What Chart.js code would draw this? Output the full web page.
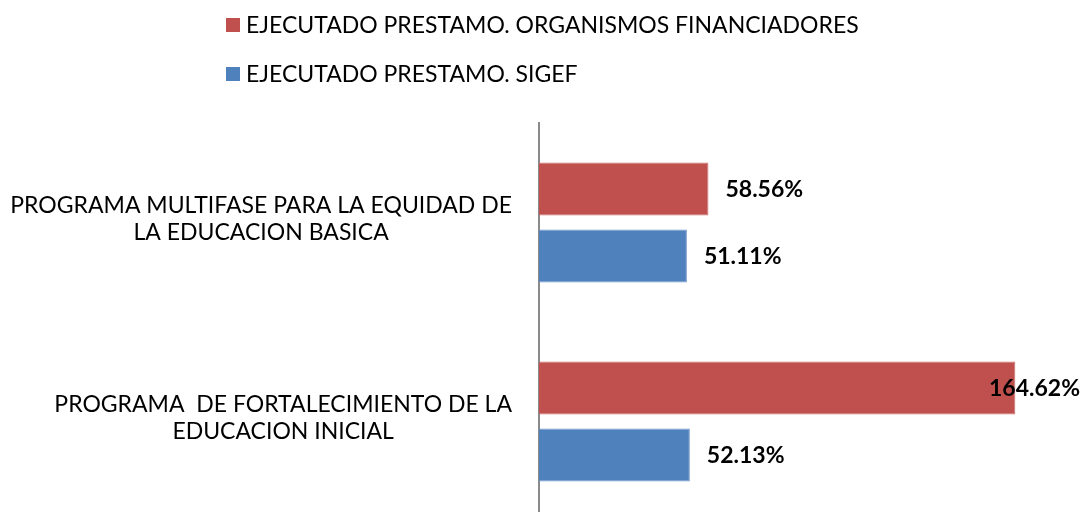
<!DOCTYPE html>
<html>
<head>
<meta charset="utf-8">
<script src="https://cdn.jsdelivr.net/npm/chart.js@4.4.1/dist/chart.umd.min.js"></script>
<style>
  html, body { margin: 0; padding: 0; background: #fff; overflow: hidden; }
  #wrap { width: 1083px; height: 522px; position: relative; }
</style>
</head>
<body>
<div id="wrap"><canvas id="chart"></canvas></div>
<script>
// categories (multi-line labels as shown on the left)
const categories = [
  ['PROGRAMA MULTIFASE PARA LA EQUIDAD DE', 'LA EDUCACION BASICA'],
  ['PROGRAMA  DE FORTALECIMIENTO DE LA', 'EDUCACION INICIAL']
];
const seriesNames = [
  'EJECUTADO PRESTAMO. ORGANISMOS FINANCIADORES',
  'EJECUTADO PRESTAMO. SIGEF'
];
const organismosValues = [58.56, 164.62];
const sigefValues = [51.11, 52.13];

const RED = '#C0504D';
const BLUE = '#4F81BD';
const FONT = 'Lato, "Liberation Sans", sans-serif';

// legend drawn as two left-aligned rows
const legendPlugin = {
  id: 'rowsLegend',
  afterDraw(chart) {
    const ctx = chart.ctx;
    ctx.save();
    ctx.font = '23px ' + FONT;
    ctx.textBaseline = 'middle';
    ctx.textAlign = 'left';
    const rows = [25, 74];
    chart.data.datasets.forEach((ds, i) => {
      ctx.fillStyle = ds.backgroundColor;
      ctx.fillRect(226, rows[i] - 7, 14, 14);
      ctx.fillStyle = '#000';
      ctx.fillText(ds.label, 246, rows[i] + 1);
    });
    ctx.restore();
  }
};

// category labels: block right-aligned to the axis, lines centered inside the block
const catLabelPlugin = {
  id: 'catLabels',
  afterDraw(chart) {
    const ctx = chart.ctx;
    const y = chart.scales.y;
    ctx.save();
    ctx.font = '23px ' + FONT;
    ctx.fillStyle = '#000';
    ctx.textAlign = 'center';
    ctx.textBaseline = 'middle';
    categories.forEach((lines, i) => {
      const w = Math.max(...lines.map(l => ctx.measureText(l).width));
      const cx = 512 - w / 2;
      const cy = y.getPixelForValue(i) - 3;
      const lh = 27;
      lines.forEach((l, k) => {
        ctx.fillText(l, cx, cy + (k - (lines.length - 1) / 2) * lh);
      });
    });
    ctx.restore();
  }
};

// value labels at the end of each bar
const valueLabelPlugin = {
  id: 'valueLabels',
  afterDatasetsDraw(chart) {
    const ctx = chart.ctx;
    ctx.save();
    ctx.font = 'bold 23px ' + FONT;
    ctx.fillStyle = '#000';
    ctx.textAlign = 'left';
    ctx.textBaseline = 'middle';
    chart.data.datasets.forEach((ds, di) => {
      chart.getDatasetMeta(di).data.forEach((bar, i) => {
        const txt = ds.data[i].toFixed(2) + '%';
        const w = ctx.measureText(txt).width;
        let x = bar.x + 17;
        if (x + w > 1080) x = 1080 - w;
        ctx.fillText(txt, x, bar.y + 1);
      });
    });
    ctx.restore();
  }
};

new Chart(document.getElementById('chart'), {
  type: 'bar',
  data: {
    labels: categories,
    datasets: [
      {
        label: seriesNames[0],
        data: organismosValues,
        backgroundColor: RED,
        borderColor: '#C9716E',
        borderWidth: 1,
        categoryPercentage: 0.673,
        barPercentage: 0.79
      },
      {
        label: seriesNames[1],
        data: sigefValues,
        backgroundColor: BLUE,
        borderColor: '#7399CC',
        borderWidth: 1,
        categoryPercentage: 0.673,
        barPercentage: 0.79
      }
    ]
  },
  options: {
    indexAxis: 'y',
    responsive: true,
    maintainAspectRatio: false,
    animation: false,
    layout: { padding: { left: 539, top: 123, right: 0, bottom: 1 } },
    scales: {
      x: { display: false, min: 0, max: 188 },
      y: {
        display: true,
        ticks: { display: false },
        grid: { display: false, drawTicks: false },
        border: { display: true, color: '#8A8A8A', width: 2 }
      }
    },
    plugins: {
      legend: { display: false },
      tooltip: { enabled: false }
    }
  },
  plugins: [legendPlugin, catLabelPlugin, valueLabelPlugin]
});
</script>
</body>
</html>
